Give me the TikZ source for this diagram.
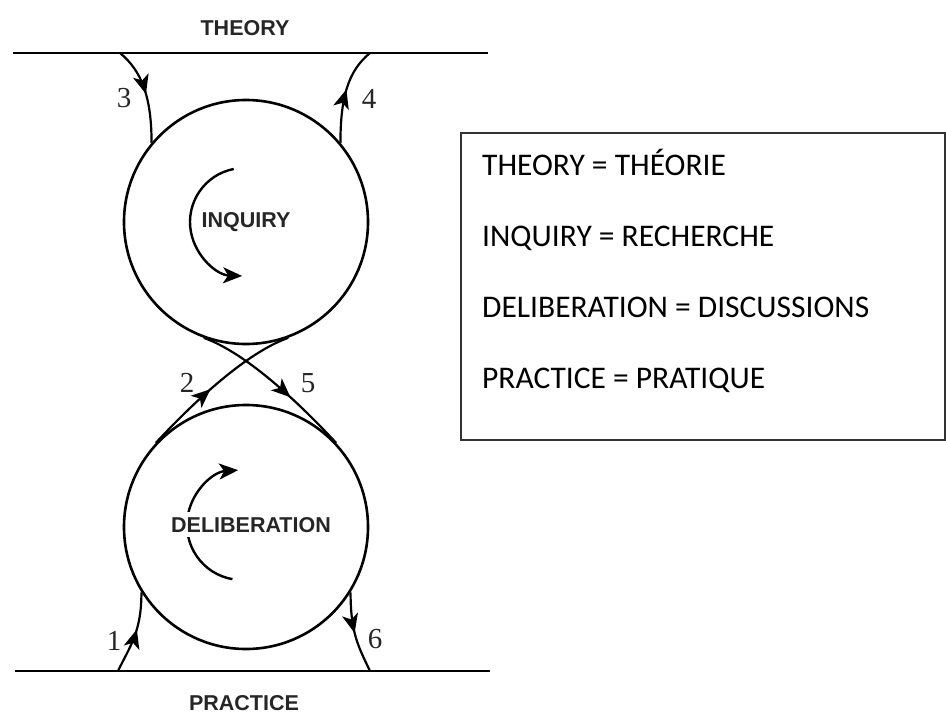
\documentclass[tikz,border=0pt]{standalone}
\usepackage{fontspec}
\setmainfont{Liberation Serif}
\newfontfamily\lblfont{Liberation Sans}
\newfontfamily\boxfont{Carlito}
\usetikzlibrary{arrows.meta,decorations.markings,calc}
\begin{document}
\begin{tikzpicture}[x=1pt,y=-1pt,
  hline/.style={line width=2.8pt},
  ring/.style={circle, draw, line width=2.6pt, minimum size=244pt, inner sep=0pt},
  link/.style={line width=2.2pt},
  midarrow/.style={postaction={decorate}, decoration={markings, mark=at position #1 with {\arrow{Stealth[length=19pt,width=16pt,inset=5pt]}}}},
  lbl/.style={font=\lblfont\bfseries\fontsize{21.5}{25}\selectfont, text=black!85, inner sep=0pt},
  num/.style={font=\fontsize{29}{33}\selectfont, inner sep=0pt, text=black!85},
  legendtext/.style={font=\boxfont\fontsize{31.5}{36}\selectfont, anchor=base west, inner sep=0pt},
  swirl/.style={line width=2.4pt, -{Stealth[length=19pt,width=16pt,inset=5pt]}}
]
\useasboundingbox (0,0) rectangle (946,713);

% theory and practice lines
\coordinate (tl) at (13,53); \coordinate (tr) at (488,53);
\coordinate (pl) at (15,671); \coordinate (pr) at (490,671);
\draw[hline] (tl) -- (tr);
\draw[hline] (pl) -- (pr);

% circles
\node[ring] (inq) at (246,222) {};
\node[ring] (del) at (246,527) {};

% connectors
\coordinate (t3) at (120,53); \coordinate (t4) at (370,53);
\coordinate (p1) at (118,671); \coordinate (p6) at (370,671);
\draw[link, midarrow=0.5] (t3) .. controls +(22,18) and +(0,-45) .. (inq.140);
\draw[link, midarrow=0.55] (inq.40) .. controls +(0,-45) and +(-22,18) .. (t4);
\draw[link, midarrow=0.55] (p1) .. controls +(12,-25) and +(0,40) .. (del.212);
\draw[link, midarrow=0.5] (del.-32) .. controls +(0,40) and +(-12,-25) .. (p6);
\draw[link, midarrow=0.45] (del.137) .. controls +(38,-41) and +(-42,15) .. (inq.-70);
\draw[link, midarrow=0.62] (inq.-110) .. controls +(42,15) and +(-38,-41) .. (del.43);

% inner rotation arrows
\draw[swirl] ($(inq.center)+(-2,0)+(259:54)$) arc[start angle=259, end angle=92, radius=54];
\draw[swirl] ($(del.center)+(-4,-2)+(100:55)$) arc[start angle=100, end angle=266, radius=55];

% labels
\node[lbl, anchor=base] (theory) at (245,35) {THEORY};
\node[lbl, anchor=base] (practice) at (244,710) {PRACTICE};
\node[lbl, anchor=base] (inqt) at (246,227) {INQUIRY};
\node[lbl, anchor=base, fill=white, inner xsep=1pt, inner ysep=5pt] (delt) at (251,532) {DELIBERATION};

% numbers
\node[num, anchor=base] (n3) at (124,107) {3};
\node[num, anchor=base] (n4) at (369,108) {4};
\node[num, anchor=base] (n2) at (187,392) {2};
\node[num, anchor=base] (n5) at (308,392) {5};
\node[num, anchor=base] (n1) at (114,650) {1};
\node[num, anchor=base] (n6) at (375,648) {6};

% legend box
\node[draw=black!80, line width=2pt, minimum width=484pt, minimum height=307pt, inner sep=0pt] (legend) at (702.5,286) {};
\node[legendtext] (l1) at (482,175) {THEORY = THÉORIE};
\node[legendtext] (l2) at (482,246) {INQUIRY = RECHERCHE};
\node[legendtext] (l3) at (482,317) {DELIBERATION = DISCUSSIONS};
\node[legendtext] (l4) at (482,388) {PRACTICE = PRATIQUE};
\end{tikzpicture}
\end{document}
